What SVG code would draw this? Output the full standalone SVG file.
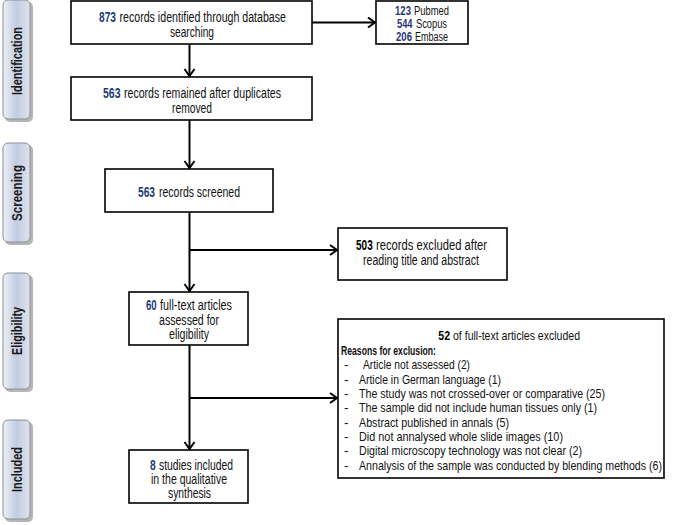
<svg xmlns="http://www.w3.org/2000/svg" width="685" height="525" viewBox="0 0 685 525">
<defs>
<linearGradient id="lg" x1="0" y1="0" x2="1" y2="0">
<stop offset="0" stop-color="#eef0f5"/>
<stop offset="0.5" stop-color="#c3cce0"/>
<stop offset="1" stop-color="#dfe3ec"/>
</linearGradient>
<marker id="ah" markerUnits="userSpaceOnUse" markerWidth="14" markerHeight="14" refX="9" refY="6" orient="auto">
<path d="M2,1 L9,6 L2,11" fill="none" stroke="#000" stroke-width="2"/>
</marker>
</defs>
<style>
.box{fill:#fff;stroke:#000;stroke-width:1.6}
.t{font-family:"Liberation Sans Narrow","Arial Narrow","Liberation Sans",sans-serif;font-size:14px;fill:#111}
.n{font-weight:bold;fill:#1f3a7a}
.k{font-weight:bold;fill:#000}
.s{font-size:13.5px}
.src{font-size:12.5px}
.lab{fill:url(#lg);stroke:#8a8f99;stroke-width:1}
.sh{fill:#b5b5b5}
.lt{font-family:"Liberation Sans Narrow","Arial Narrow","Liberation Sans",sans-serif;font-size:14.5px;font-weight:bold;fill:#1a1a1a}
.ln{fill:none;stroke:#000;stroke-width:2}
</style>
<rect width="685" height="525" fill="#fff"/>

<g id="phase-identification">
<rect class="sh" x="5" y="2" width="28" height="120" rx="5"/>
<rect class="lab" x="3" y="0" width="27" height="119" rx="5"/>
<text class="lt" transform="translate(21.5,95) rotate(-90)" x="0" y="0" textLength="68" lengthAdjust="spacingAndGlyphs">Identification</text>
</g>
<g id="phase-screening">
<rect class="sh" x="5" y="145" width="28" height="100" rx="5"/>
<rect class="lab" x="3" y="143" width="27" height="99" rx="5"/>
<text class="lt" transform="translate(21.5,221) rotate(-90)" x="0" y="0" textLength="56" lengthAdjust="spacingAndGlyphs">Screening</text>
</g>
<g id="phase-eligibility">
<rect class="sh" x="5" y="275" width="28" height="117" rx="5"/>
<rect class="lab" x="3" y="273" width="27" height="116" rx="5"/>
<text class="lt" transform="translate(21.5,355) rotate(-90)" x="0" y="0" textLength="48" lengthAdjust="spacingAndGlyphs">Eligibility</text>
</g>
<g id="phase-included">
<rect class="sh" x="5" y="422" width="28" height="100" rx="5"/>
<rect class="lab" x="3" y="420" width="27" height="99" rx="5"/>
<text class="lt" transform="translate(21.5,492) rotate(-90)" x="0" y="0" textLength="45" lengthAdjust="spacingAndGlyphs">Included</text>
</g>

<g id="connectors">
<line class="ln" x1="189.5" y1="44" x2="189.5" y2="76" marker-end="url(#ah)"/>
<line class="ln" x1="312" y1="22.5" x2="375" y2="22.5" marker-end="url(#ah)"/>
<line class="ln" x1="189.5" y1="120" x2="189.5" y2="168" marker-end="url(#ah)"/>
<line class="ln" x1="189.5" y1="212" x2="189.5" y2="291" marker-end="url(#ah)"/>
<line class="ln" x1="189.5" y1="250" x2="337" y2="250" marker-end="url(#ah)"/>
<line class="ln" x1="189.5" y1="345" x2="189.5" y2="449" marker-end="url(#ah)"/>
<line class="ln" x1="189.5" y1="398" x2="337" y2="398" marker-end="url(#ah)"/>
</g>

<g id="n-identified">
<rect class="box" x="71" y="1" width="241" height="43"/>
<text class="t n" x="99" y="22" textLength="17" lengthAdjust="spacingAndGlyphs">873</text>
<text class="t" x="119.5" y="22" textLength="166.5" lengthAdjust="spacingAndGlyphs">records identified through database</text>
<text class="t" x="170" y="36.5" textLength="44" lengthAdjust="spacingAndGlyphs">searching</text>
</g>
<g id="n-sources">
<rect class="box" x="376" y="1" width="92" height="43"/>
<text class="t src n" x="395" y="14.5" textLength="16" lengthAdjust="spacingAndGlyphs">123</text>
<text class="t src" x="414" y="14.5" textLength="35" lengthAdjust="spacingAndGlyphs">Pubmed</text>
<text class="t src n" x="397" y="27.5" textLength="15.5" lengthAdjust="spacingAndGlyphs">544</text>
<text class="t src" x="416" y="27.5" textLength="31" lengthAdjust="spacingAndGlyphs">Scopus</text>
<text class="t src n" x="396" y="40.5" textLength="16" lengthAdjust="spacingAndGlyphs">206</text>
<text class="t src" x="415" y="40.5" textLength="33" lengthAdjust="spacingAndGlyphs">Embase</text>
</g>
<g id="n-dedup">
<rect class="box" x="71" y="77" width="241" height="43"/>
<text class="t n" x="103" y="98" textLength="17.5" lengthAdjust="spacingAndGlyphs">563</text>
<text class="t" x="124" y="98" textLength="157" lengthAdjust="spacingAndGlyphs">records remained after duplicates</text>
<text class="t" x="172" y="112.5" textLength="40" lengthAdjust="spacingAndGlyphs">removed</text>
</g>
<g id="n-screened">
<rect class="box" x="105" y="169" width="168" height="43"/>
<text class="t n" x="138" y="196.5" textLength="17" lengthAdjust="spacingAndGlyphs">563</text>
<text class="t" x="159" y="196.5" textLength="81" lengthAdjust="spacingAndGlyphs">records screened</text>
</g>
<g id="n-excluded503">
<rect class="box" x="338" y="228" width="169" height="52"/>
<text class="t k" x="356" y="250" textLength="16.7" lengthAdjust="spacingAndGlyphs">503</text>
<text class="t" x="376" y="250" textLength="111" lengthAdjust="spacingAndGlyphs">records excluded after</text>
<text class="t" x="363" y="265" textLength="116" lengthAdjust="spacingAndGlyphs">reading title and abstract</text>
</g>
<g id="n-fulltext">
<rect class="box" x="129" y="292" width="119" height="53"/>
<text class="t n" x="146" y="310" textLength="10.7" lengthAdjust="spacingAndGlyphs">60</text>
<text class="t" x="160" y="310" textLength="72" lengthAdjust="spacingAndGlyphs">full-text articles</text>
<text class="t" x="159" y="325" textLength="60" lengthAdjust="spacingAndGlyphs">assessed for</text>
<text class="t" x="169" y="338.5" textLength="40" lengthAdjust="spacingAndGlyphs">eligibility</text>
</g>
<g id="n-excluded52">
<rect class="box" x="338" y="319" width="326" height="159"/>
<text class="t s k" x="438.3" y="340" textLength="11.7" lengthAdjust="spacingAndGlyphs">52</text>
<text class="t s" x="453" y="340" textLength="127" lengthAdjust="spacingAndGlyphs">of full-text articles excluded</text>
<text class="t s" x="341" y="355" font-weight="bold" textLength="95" lengthAdjust="spacingAndGlyphs">Reasons for exclusion:</text>
<g class="t s">
<text x="344" y="369">-</text><text x="363" y="369" textLength="107" lengthAdjust="spacingAndGlyphs">Article not assessed (2)</text>
<text x="344" y="383.5">-</text><text x="359" y="383.5" textLength="142" lengthAdjust="spacingAndGlyphs">Article in German language (1)</text>
<text x="344" y="398">-</text><text x="359" y="398" textLength="246" lengthAdjust="spacingAndGlyphs">The study was not crossed-over or comparative (25)</text>
<text x="344" y="412">-</text><text x="359" y="412" textLength="238" lengthAdjust="spacingAndGlyphs">The sample did not include human tissues only (1)</text>
<text x="344" y="426.5">-</text><text x="359" y="426.5" textLength="150" lengthAdjust="spacingAndGlyphs">Abstract published in annals (5)</text>
<text x="344" y="441">-</text><text x="359" y="441" textLength="204" lengthAdjust="spacingAndGlyphs">Did not annalysed whole slide images (10)</text>
<text x="344" y="455">-</text><text x="359" y="455" textLength="223" lengthAdjust="spacingAndGlyphs">Digital microscopy technology was not clear (2)</text>
<text x="344" y="469.5">-</text><text x="359" y="469.5" textLength="303" lengthAdjust="spacingAndGlyphs">Annalysis of the sample was conducted by blending methods (6)</text>
</g>
</g>
<g id="n-included">
<rect class="box" x="129" y="450" width="119" height="53"/>
<text class="t n" x="150" y="470" textLength="5.7" lengthAdjust="spacingAndGlyphs">8</text>
<text class="t" x="159" y="470" textLength="74" lengthAdjust="spacingAndGlyphs">studies included</text>
<text class="t" x="151" y="484" textLength="76" lengthAdjust="spacingAndGlyphs">in the qualitative</text>
<text class="t" x="168" y="497.5" textLength="43" lengthAdjust="spacingAndGlyphs">synthesis</text>
</g>
</svg>
